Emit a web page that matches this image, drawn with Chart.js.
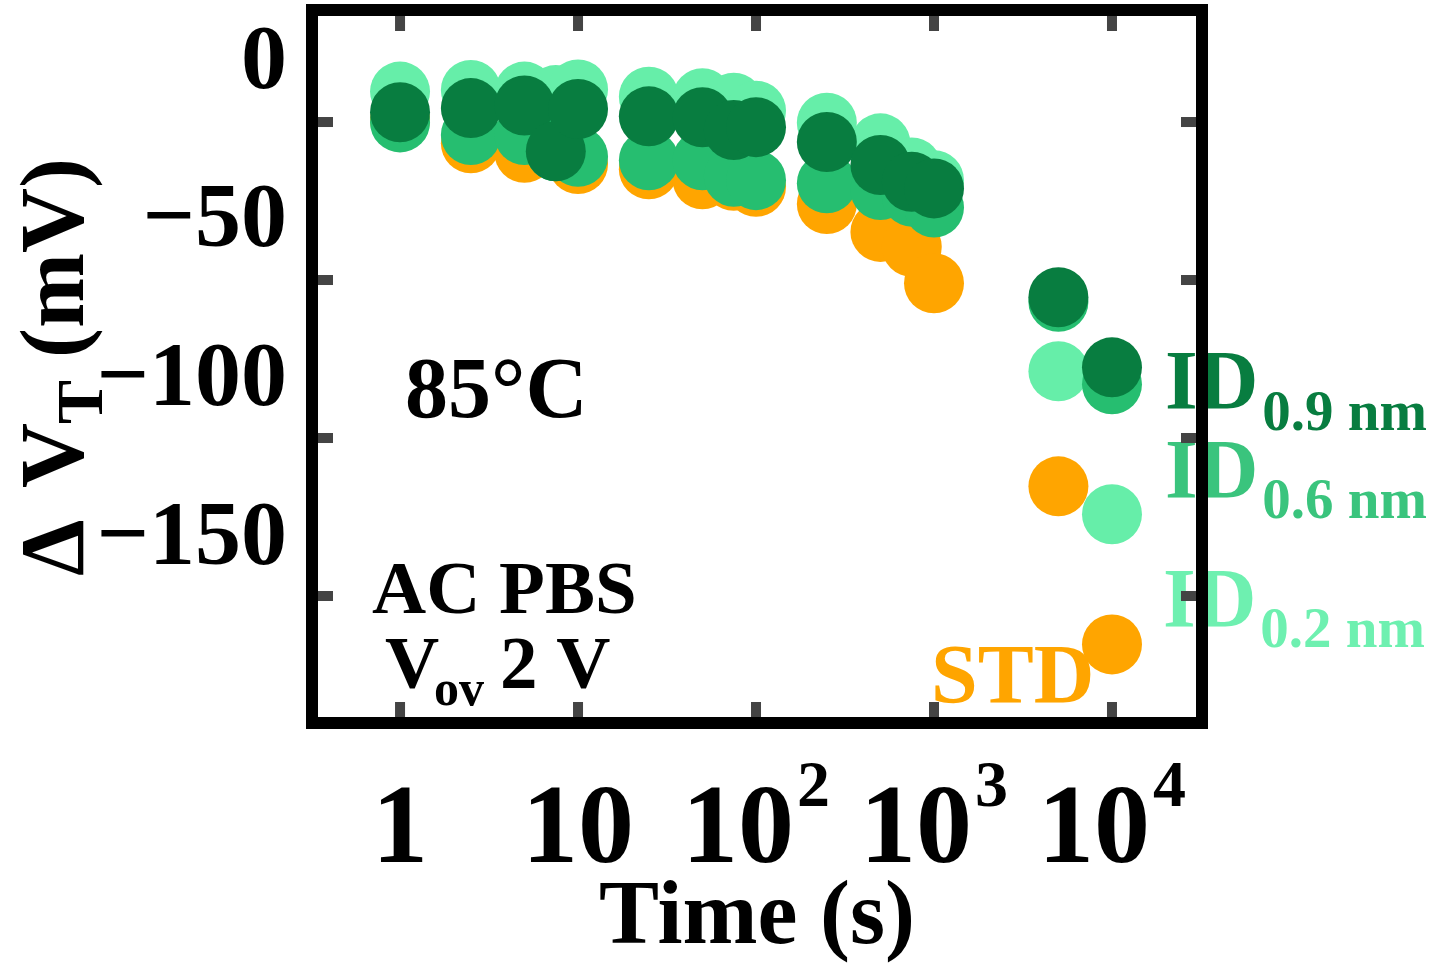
<!DOCTYPE html>
<html>
<head>
<meta charset="utf-8">
<script src="https://cdn.jsdelivr.net/npm/chart.js@4.4.1/dist/chart.umd.min.js"></script>
<style>
  html, body { margin: 0; padding: 0; background: #ffffff; }
  canvas { display: block; }
</style>
</head>
<body>
<canvas id="chart" width="1450" height="965"></canvas>
<script>
// Stress times (s) and threshold-voltage shift (mV) for each gate stack
const times = [1, 2.5, 5, 7.5, 10, 25, 50, 75, 100, 250, 500, 750, 1000, 5000, 10000];
const std  = [-17.6, -25.0, -28.0, -27.0, -31.5, -33.2, -36.3, -36.8, -38.7, -44.1, -52.9, -57.6, -69.1, -133.1, -182.9];
const id02 = [-8.7, -8.2, -8.7, -9.8, -8.0, -10.3, -10.8, -12.2, -14.7, -18.5, -25.0, -32.6, -36.6, -96.8, -141.9];
const id06 = [-18.4, -22.4, -22.4, -27.5, -29.2, -30.3, -30.3, -35.5, -36.6, -37.6, -39.7, -41.8, -45.2, -74.9, -100.9];
const id09 = [-15.2, -13.9, -13.1, -27.5, -14.2, -16.5, -16.8, -20.8, -19.9, -24.6, -31.8, -37.1, -39.2, -73.5, -95.6];

// Axis ticks
const xTickValues = [1, 10, 100, 1000, 10000];
const xTickBase   = ['1', '10', '10', '10', '10'];
const xTickExp    = ['', '', '2', '3', '4'];
const yTickValues = [0, -50, -100, -150];
const yTickMarks  = [-18.28, -68.07, -117.86, -167.65];

const FONT = '"Liberation Serif", "Times New Roman", Times, serif';

const COLORS = {
  std: '#FFA500',
  id02: '#66EEA9',
  id06: '#26BE70',
  id09: '#087D40'
};

const toPoints = (ys) => times.map((t, i) => ({ x: t, y: ys[i] }));

// Frame, inner tick marks, axis labels with superscripts and in-plot text
const decorations = {
  id: 'decorations',
  afterDatasetsDraw(chart) {
    const ctx = chart.ctx;
    const xs = chart.scales.x;
    const ys = chart.scales.y;
    const area = chart.chartArea;

    ctx.save();
    ctx.textAlign = 'left';
    ctx.textBaseline = 'alphabetic';

    // x tick labels: powers of ten with raised exponents
    xTickValues.forEach((v, i) => {
      const px = xs.getPixelForValue(v);
      ctx.font = 'bold 112px ' + FONT;
      const wb = ctx.measureText(xTickBase[i]).width;
      let ws = 0, gap = 0;
      if (xTickExp[i]) {
        ctx.font = 'bold 66px ' + FONT;
        ws = ctx.measureText(xTickExp[i]).width;
        gap = 3;
      }
      const start = px - (wb + gap + ws) / 2;
      ctx.fillStyle = '#000';
      ctx.font = 'bold 112px ' + FONT;
      ctx.fillText(xTickBase[i], start, 862);
      if (xTickExp[i]) {
        ctx.font = 'bold 66px ' + FONT;
        ctx.fillText(xTickExp[i], start + wb + gap, 806);
      }
    });

    // y axis title, rotated, with subscript T
    ctx.save();
    ctx.translate(83, 576);
    ctx.rotate(-Math.PI / 2);
    ctx.fillStyle = '#000';
    ctx.font = 'bold 90px ' + FONT;
    ctx.fillText('\u0394', 0, 0);
    ctx.fillText('V', 88, 0);
    ctx.font = 'bold 66px ' + FONT;
    ctx.fillText('T', 152, 19);
    ctx.font = 'bold 90px ' + FONT;
    ctx.fillText('(mV)', 218, 0);
    ctx.restore();

    // condition labels
    ctx.fillStyle = '#000';
    ctx.font = 'bold 86px ' + FONT;
    ctx.fillText('85\u00B0C', 405, 417);
    ctx.font = 'bold 75px ' + FONT;
    ctx.fillText('AC PBS', 372, 613);
    ctx.fillText('V', 385, 688);
    ctx.fillText('2 V', 500, 688);
    ctx.font = 'bold 50px ' + FONT;
    ctx.fillText('ov', 434, 705);

    // series labels
    const series = [
      { main: 'ID', sub: '0.9 nm', color: '#087D40', x: 1165, y: 409, subY: 430 },
      { main: 'ID', sub: '0.6 nm', color: '#3AC47D', x: 1165, y: 498, subY: 518 },
      { main: 'ID', sub: '0.2 nm', color: '#6EF0B0', x: 1163, y: 627, subY: 647 }
    ];
    series.forEach(s => {
      ctx.fillStyle = s.color;
      ctx.font = 'bold 84px ' + FONT;
      ctx.fillText(s.main, s.x, s.y);
      const w = ctx.measureText(s.main).width;
      ctx.font = 'bold 57px ' + FONT;
      ctx.fillText(s.sub, s.x + w + 4, s.subY);
    });
    ctx.fillStyle = COLORS.std;
    ctx.font = 'bold 84px ' + FONT;
    ctx.fillText('STD', 931, 703);

    // inner tick marks
    ctx.fillStyle = '#444444';
    const tl = 15, tw = 10;
    xTickValues.forEach(v => {
      const px = xs.getPixelForValue(v);
      ctx.fillRect(px - tw / 2, area.top, tw, tl);
      ctx.fillRect(px - tw / 2, area.bottom - tl, tw, tl);
    });
    yTickMarks.forEach(v => {
      const py = ys.getPixelForValue(v);
      ctx.fillRect(area.left, py - tw / 2, tl, tw);
      ctx.fillRect(area.right - tl, py - tw / 2, tl, tw);
    });

    // frame
    ctx.strokeStyle = '#000';
    ctx.lineWidth = 12;
    ctx.strokeRect(area.left - 6, area.top - 6, area.right - area.left + 12, area.bottom - area.top + 12);
    ctx.restore();
  }
};

new Chart(document.getElementById('chart').getContext('2d'), {
  type: 'scatter',
  data: {
    datasets: [
      { label: 'ID 0.9 nm', data: toPoints(id09), backgroundColor: COLORS.id09, order: 0 },
      { label: 'ID 0.6 nm', data: toPoints(id06), backgroundColor: COLORS.id06, order: 1 },
      { label: 'ID 0.2 nm', data: toPoints(id02), backgroundColor: COLORS.id02, order: 2 },
      { label: 'STD', data: toPoints(std), backgroundColor: COLORS.std, order: 3 }
    ]
  },
  options: {
    responsive: false,
    animation: false,
    devicePixelRatio: 1,
    events: [],
    clip: false,
    layout: { autoPadding: false, padding: { top: 16, right: 254, left: 0, bottom: 0 } },
    elements: { point: { radius: 30, hoverRadius: 30, borderWidth: 0 } },
    plugins: { legend: { display: false }, tooltip: { enabled: false } },
    scales: {
      x: {
        type: 'logarithmic',
        bounds: 'data',
        min: 0.346,
        max: 29650,
        grid: { display: false, drawTicks: false },
        border: { display: false },
        ticks: { display: false },
        afterBuildTicks: (s) => { s.ticks = xTickValues.map(v => ({ value: v })); },
        title: {
          display: true,
          text: 'Time (s)',
          color: '#000',
          font: { family: FONT, size: 90, weight: 'bold', lineHeight: 1 },
          padding: { top: 0, bottom: 0 }
        },
        afterFit: (s) => { s.height = 248; s.paddingLeft = 0; s.paddingRight = 0; }
      },
      y: {
        type: 'linear',
        bounds: 'data',
        min: -205.78,
        max: 15.13,
        grid: { display: false, drawTicks: false },
        border: { display: false },
        afterBuildTicks: (s) => { s.ticks = yTickValues.map(v => ({ value: v })); },
        ticks: {
          color: '#000',
          padding: 31,
          font: { family: FONT, size: 92, weight: 'bold' },
          callback: (v) => (v < 0 ? '\u2212' + Math.abs(v) : String(v))
        },
        afterFit: (s) => { s.width = 318; s.paddingTop = 0; s.paddingBottom = 0; }
      }
    }
  },
  plugins: [decorations]
});
</script>
</body>
</html>
